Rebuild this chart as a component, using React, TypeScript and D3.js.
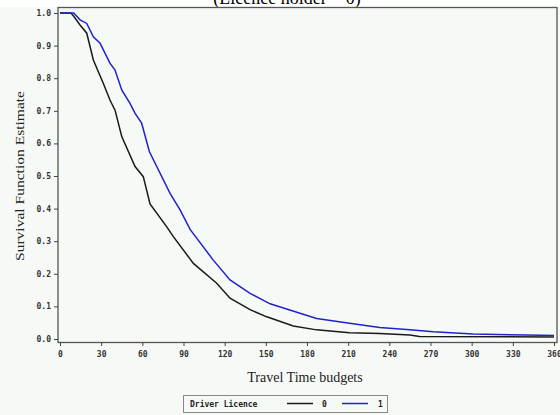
import { useEffect, useRef } from "react";
import * as d3 from "d3";

// Kaplan-Meier estimates
const timeNoLicence = [0, 8, 10, 14.6, 19.5, 24.3, 31.6, 36.4, 40.1, 45, 54.7, 60.7, 65.6, 77.8, 82.6, 97.2, 114.2, 123.9, 138.5, 150.7, 170, 187, 211, 233, 255, 262, 360];
const survNoLicence = [1, 1, 0.99, 0.963, 0.938, 0.856, 0.784, 0.733, 0.702, 0.621, 0.529, 0.498, 0.414, 0.344, 0.314, 0.232, 0.171, 0.125, 0.09, 0.068, 0.04, 0.028, 0.019, 0.017, 0.012, 0.008, 0.006];

const timeLicence = [0, 10, 14.6, 19.5, 24.3, 29.2, 36.4, 40.1, 45, 51, 54.7, 59.5, 65.1, 80.2, 87.5, 94.8, 111.7, 123.9, 138.5, 153.1, 174.9, 187, 211, 233, 255, 272, 301, 340, 360];
const survLicence = [1, 1, 0.979, 0.968, 0.927, 0.907, 0.846, 0.825, 0.764, 0.723, 0.692, 0.662, 0.575, 0.447, 0.396, 0.336, 0.242, 0.181, 0.14, 0.108, 0.079, 0.063, 0.048, 0.035, 0.028, 0.022, 0.015, 0.012, 0.011];

const xTicks = [0, 30, 60, 90, 120, 150, 180, 210, 240, 270, 300, 330, 360];
const yTicks = [0, 0.1, 0.2, 0.3, 0.4, 0.5, 0.6, 0.7, 0.8, 0.9, 1.0];
const legendLabels = ["0", "1"];
const seriesColors = ["#1a1a1a", "#2222cc"];

export default function App() {
  const ref = useRef<SVGSVGElement>(null);

  useEffect(() => {
    const svg = d3.select(ref.current);
    svg.selectAll("*").remove();

    const width = 560;
    const height = 415;
    const mono = "'DejaVu Sans Mono', monospace";
    const serif = "'Liberation Serif', 'Times New Roman', serif";

    svg.append("rect").attr("width", width).attr("height", height).attr("fill", "#f6f9f6");
    svg.append("rect").attr("width", width).attr("height", 7).attr("fill", "#ffffff");

    // clipped title from the page above
    svg
      .append("text")
      .attr("x", 287)
      .attr("y", 3.5)
      .attr("text-anchor", "middle")
      .style("font-family", serif)
      .style("font-size", "18px")
      .text("(Licence holder = 0)");

    const x = d3.scaleLinear().domain([0, 360]).range([60, 554]);
    const y = d3.scaleLinear().domain([0, 1]).range([339, 13]);

    // plot frame
    svg
      .append("rect")
      .attr("x", 58)
      .attr("y", 7.5)
      .attr("width", 499)
      .attr("height", 335)
      .attr("fill", "#f5faf6")
      .attr("stroke", "#555")
      .attr("stroke-width", 1.3);

    // x axis
    const xAxis = svg.append("g").attr("transform", "translate(0,342)");
    xAxis
      .call(d3.axisBottom(x).tickValues(xTicks).tickSize(4).tickSizeOuter(0).tickPadding(5).tickFormat(d3.format("d")))
      .call((g) => g.select(".domain").remove());
    xAxis.selectAll("line").attr("stroke", "#444");
    xAxis
      .selectAll("text")
      .attr("fill", "#333")
      .style("font-family", mono)
      .style("font-size", "8px")
      .style("font-weight", "bold");

    // y axis
    const yAxis = svg.append("g").attr("transform", "translate(58,0)");
    yAxis
      .call(d3.axisLeft(y).tickValues(yTicks).tickSize(4).tickSizeOuter(0).tickPadding(3).tickFormat(d3.format(".1f")))
      .call((g) => g.select(".domain").remove());
    yAxis.selectAll("line").attr("stroke", "#444");
    yAxis
      .selectAll("text")
      .attr("fill", "#333")
      .style("font-family", mono)
      .style("font-size", "8px")
      .style("font-weight", "bold");

    svg
      .append("text")
      .attr("x", 305)
      .attr("y", 382)
      .attr("text-anchor", "middle")
      .style("font-family", serif)
      .style("font-size", "14px")
      .attr("fill", "#222")
      .text("Travel Time budgets");

    svg
      .append("text")
      .attr("transform", "translate(24,176) rotate(-90)")
      .attr("text-anchor", "middle")
      .attr("textLength", 170)
      .attr("lengthAdjust", "spacingAndGlyphs")
      .style("font-family", serif)
      .style("font-size", "13px")
      .attr("fill", "#222")
      .text("Survival Function Estimate");

    // curves
    const line = d3
      .line<[number, number]>()
      .x((d) => x(d[0]))
      .y((d) => y(d[1]));

    const series: [number, number][][] = [
      timeNoLicence.map((t, i) => [t, survNoLicence[i]]),
      timeLicence.map((t, i) => [t, survLicence[i]]),
    ];

    series.forEach((s, i) => {
      svg
        .append("path")
        .datum(s)
        .attr("d", line)
        .attr("fill", "none")
        .attr("stroke", seriesColors[i])
        .attr("stroke-width", 1.5);
    });

    // legend
    const legend = svg.append("g");
    legend
      .append("rect")
      .attr("x", 183.5)
      .attr("y", 395.5)
      .attr("width", 204)
      .attr("height", 17)
      .attr("fill", "#f6f9f6")
      .attr("stroke", "#888");
    legend
      .append("text")
      .attr("x", 190)
      .attr("y", 407)
      .style("font-family", mono)
      .style("font-size", "8px")
      .style("font-weight", "bold")
      .attr("fill", "#222")
      .text("Driver Licence");

    const items = legend
      .selectAll(".item")
      .data(legendLabels)
      .enter()
      .append("g")
      .attr("transform", (_, i) => `translate(${287 + i * 55},0)`);
    items
      .append("line")
      .attr("x1", 0)
      .attr("x2", 26)
      .attr("y1", 403.5)
      .attr("y2", 403.5)
      .attr("stroke", (_, i) => seriesColors[i])
      .attr("stroke-width", 1.5);
    items
      .append("text")
      .attr("x", (_, i) => (i === 0 ? 35 : 36))
      .attr("y", 407)
      .style("font-family", mono)
      .style("font-size", "8px")
      .style("font-weight", "bold")
      .attr("fill", "#222")
      .text((d) => d);
  }, []);

  return (
    <svg
      ref={ref}
      width={560}
      height={415}
      style={{ position: "absolute", left: 0, top: 0, display: "block" }}
    />
  );
}
